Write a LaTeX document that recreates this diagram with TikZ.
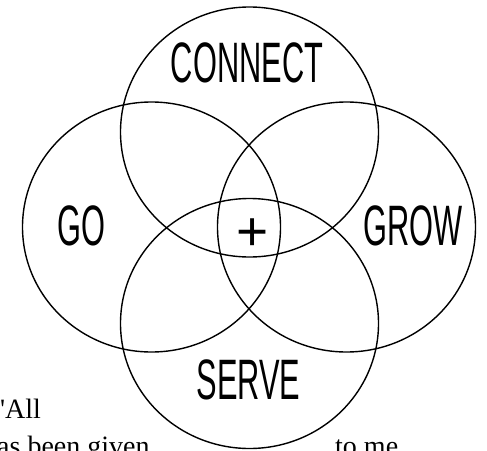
\documentclass[tikz,border=0pt]{standalone}
\usepackage{fontspec}
\usepackage{tikz}
\newfontfamily\ringfont[FakeStretch=0.54]{Liberation Sans}
\newfontfamily\plusfont{Liberation Sans}
\newfontfamily\versefont{Liberation Serif}

\begin{document}
\begin{tikzpicture}[
  x=1pt, y=-1pt,
  ring/.style={draw, line width=1.4pt},
  word/.style={font=\ringfont\fontsize{57}{57}\selectfont, inner sep=0pt},
  verse/.style={font=\versefont\fontsize{28}{30}\selectfont, inner sep=0pt, anchor=base west}
]
\useasboundingbox (0,0) rectangle (487,450);
\clip (0,0) rectangle (487,450);

% centres of the four rings
\coordinate (connect) at (249.5,132);
\coordinate (go) at (151.5,227);
\coordinate (grow) at (346.5,227);
\coordinate (serve) at (249.5,323.5);

\draw[ring] (connect) ellipse [x radius=129, y radius=125];
\draw[ring] (go) ellipse [x radius=129, y radius=125];
\draw[ring] (grow) ellipse [x radius=129, y radius=125];
\draw[ring] (serve) ellipse [x radius=129, y radius=125];

\node[word] (connectlbl) at (247,62.5) {CONNECT};
\node[word] (golbl) at (81.5,225.5) {GO};
\node[word] (growlbl) at (413,225.5) {GROW};
\node[word] (servelbl) at (248.5,380) {SERVE};
\node[inner sep=0pt, font=\plusfont\fontsize{55}{55}\selectfont] (plus) at (252.5,235) {+};

% verse, cut off at the edge as in the source
\node[verse] (all) at (0,418) {\textquotesingle All};
\node[verse] (given) at (-3,455) {as been given};
\node[verse] (tome) at (335,455) {to me};
\end{tikzpicture}
\end{document}
